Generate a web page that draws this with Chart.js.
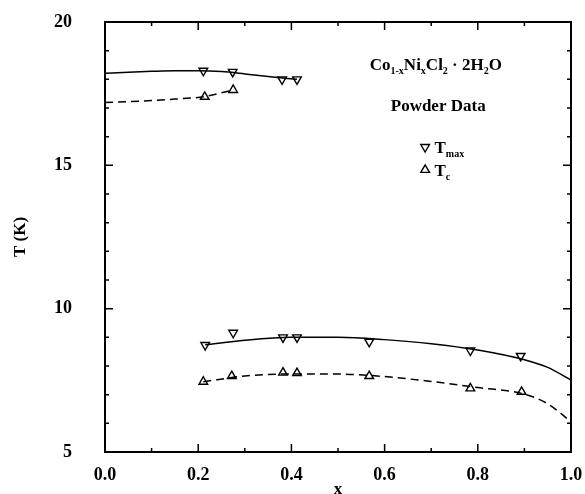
<!DOCTYPE html>
<html>
<head>
<meta charset="utf-8">
<script src="https://cdn.jsdelivr.net/npm/chart.js@4/dist/chart.umd.min.js"></script>
<style>
  body { margin: 0; background: #fff; }
</style>
</head>
<body>
<canvas id="phaseChart" width="585" height="494"></canvas>
<script>
// measured points
const tmaxX = [0.211, 0.274, 0.38, 0.412, 0.215, 0.275, 0.382, 0.412, 0.567, 0.784, 0.892];
const tmaxT = [18.30, 18.26, 18.0, 18.0, 8.73, 9.16, 9.0, 9.0, 8.84, 8.54, 8.35];
const tcX = [0.214, 0.275, 0.211, 0.272, 0.382, 0.412, 0.567, 0.784, 0.894];
const tcT = [17.39, 17.63, 7.45, 7.65, 7.77, 7.75, 7.65, 7.22, 7.10];

// guide-to-the-eye curves
const upMaxX = [0, 0.05, 0.1, 0.15, 0.2, 0.25, 0.3, 0.35, 0.412];
const upMaxT = [18.21, 18.25, 18.28, 18.30, 18.30, 18.27, 18.19, 18.10, 18.0];
const upCX = [0, 0.05, 0.1, 0.15, 0.214, 0.275];
const upCT = [17.19, 17.22, 17.26, 17.31, 17.40, 17.63];
const lowMaxX = [0.215, 0.3, 0.4, 0.5, 0.6, 0.7, 0.8, 0.9, 0.95, 1.0];
const lowMaxT = [8.74, 8.9, 9.0, 9.0, 8.92, 8.78, 8.56, 8.22, 7.95, 7.51];
const lowCX = [0.211, 0.3, 0.4, 0.5, 0.6, 0.7, 0.8, 0.9, 0.95, 1.0];
const lowCT = [7.45, 7.65, 7.72, 7.72, 7.63, 7.46, 7.25, 7.02, 6.68, 6.06];

const serif = 'Liberation Serif';
const pts = (xs, ys) => xs.map((x, i) => ({ x: x, y: ys[i] }));

function curve(xs, ys, dashed) {
  return {
    type: 'line',
    data: pts(xs, ys),
    borderColor: '#000',
    borderWidth: 1.5,
    borderDash: dashed ? [8, 5] : [],
    pointRadius: 0,
    cubicInterpolationMode: 'monotone',
    fill: false,
  };
}

function markers(xs, ys, down) {
  return {
    type: 'scatter',
    data: pts(xs, ys),
    pointStyle: 'triangle',
    rotation: down ? 180 : 0,
    pointRadius: 5,
    pointBorderWidth: 1.4,
    pointBorderColor: '#000',
    pointBackgroundColor: '#fff',
    showLine: false,
  };
}

function tri(ctx, x, y, down) {
  const r = 5;
  const s = down ? -1 : 1;
  ctx.beginPath();
  ctx.moveTo(x, y - s * r);
  ctx.lineTo(x + r * 0.87, y + s * r * 0.5);
  ctx.lineTo(x - r * 0.87, y + s * r * 0.5);
  ctx.closePath();
  ctx.fillStyle = '#fff';
  ctx.fill();
  ctx.lineWidth = 1.4;
  ctx.strokeStyle = '#000';
  ctx.stroke();
}

// text with subscripts: parts = [[text, isSub], ...]
function rich(ctx, parts, cx, y, align) {
  const big = 'bold 17px "' + serif + '"';
  const small = 'bold 10px "' + serif + '"';
  let w = 0;
  parts.forEach(p => { ctx.font = p[1] ? small : big; w += ctx.measureText(p[0]).width; });
  let x = align === 'left' ? cx : cx - w / 2;
  ctx.textAlign = 'left';
  ctx.textBaseline = 'alphabetic';
  ctx.fillStyle = '#000';
  parts.forEach(p => {
    ctx.font = p[1] ? small : big;
    ctx.fillText(p[0], x, p[1] ? y + 4 : y);
    x += ctx.measureText(p[0]).width;
  });
}

const framePlugin = {
  id: 'frame',
  afterDraw(chart) {
    const { ctx, chartArea: a, scales } = chart;
    const xs = scales.x, ys = scales.y;
    ctx.save();
    ctx.strokeStyle = '#000';
    ctx.lineWidth = 2;
    ctx.strokeRect(a.left, a.top, a.right - a.left, a.bottom - a.top);
    ctx.lineWidth = 1.5;
    ctx.beginPath();
    for (let i = 0; i <= 10; i++) {
      const px = xs.getPixelForValue(i / 10);
      const len = i % 2 === 0 ? 8 : 4;
      ctx.moveTo(px, a.bottom); ctx.lineTo(px, a.bottom - len);
      ctx.moveTo(px, a.top); ctx.lineTo(px, a.top + len);
    }
    for (let v = 5; v <= 20; v++) {
      const py = ys.getPixelForValue(v);
      const len = v % 5 === 0 ? 8 : 4;
      ctx.moveTo(a.left, py); ctx.lineTo(a.left + len, py);
      ctx.moveTo(a.right, py); ctx.lineTo(a.right - len, py);
    }
    ctx.stroke();

    const X = v => xs.getPixelForValue(v);
    const Y = v => ys.getPixelForValue(v);
    rich(ctx, [['Co', 0], ['1-x', 1], ['Ni', 0], ['x', 1], ['Cl', 0], ['2', 1], [' \u00b7 2H', 0], ['2', 1], ['O', 0]], X(0.71), Y(18.54) + 6);
    rich(ctx, [['Powder Data', 0]], X(0.715), Y(17.1) + 6);
    tri(ctx, X(0.687), Y(15.64), true);
    rich(ctx, [['T', 0], ['max', 1]], X(0.707), Y(15.64) + 6, 'left');
    tri(ctx, X(0.687), Y(14.84), false);
    rich(ctx, [['T', 0], ['c', 1]], X(0.707), Y(14.84) + 6, 'left');
    ctx.restore();
  }
};

new Chart(document.getElementById('phaseChart'), {
  type: 'scatter',
  data: {
    datasets: [
      curve(upMaxX, upMaxT, false),
      curve(upCX, upCT, true),
      curve(lowMaxX, lowMaxT, false),
      curve(lowCX, lowCT, true),
      markers(tmaxX, tmaxT, true),
      markers(tcX, tcT, false),
    ]
  },
  options: {
    responsive: false,
    animation: false,
    layout: { padding: { top: 22, right: 14, left: 0, bottom: 0 } },
    plugins: { legend: { display: false }, tooltip: { enabled: false } },
    scales: {
      x: {
        type: 'linear', min: 0, max: 1,
        grid: { display: false },
        border: { display: false },
        ticks: {
          stepSize: 0.2, padding: 5, color: '#000',
          font: { family: serif, size: 18, weight: 'bold' },
          callback: v => v.toFixed(1)
        },
        title: {
          display: true, text: 'x', color: '#000',
          font: { family: serif, size: 17, weight: 'bold', lineHeight: 1 },
          padding: { top: 0, bottom: -4 }
        },
        afterFit: s => { s.height = 42; s.paddingLeft = 0; s.paddingRight = 0; }
      },
      y: {
        type: 'linear', min: 5, max: 20,
        grid: { display: false },
        border: { display: false },
        ticks: {
          stepSize: 5, padding: 25, color: '#000',
          font: { family: serif, size: 18, weight: 'bold' }
        },
        title: {
          display: true, text: 'T (K)', color: '#000',
          font: { family: serif, size: 17, weight: 'bold' },
          padding: { top: 10, bottom: 0 }
        },
        afterFit: s => { s.width = 105; s.paddingTop = 0; s.paddingBottom = 0; }
      }
    }
  },
  plugins: [framePlugin]
});
</script>
</body>
</html>
